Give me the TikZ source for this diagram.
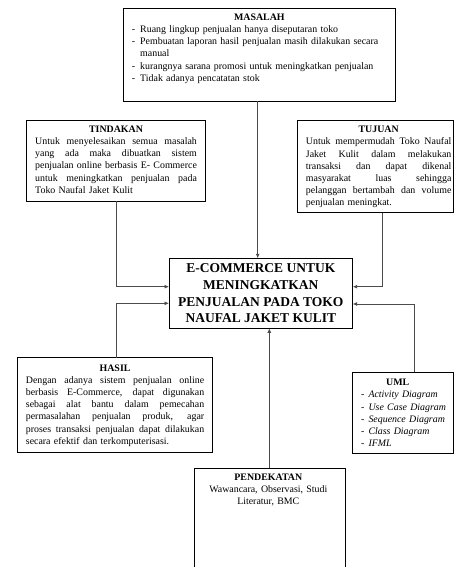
\documentclass[tikz,border=0pt]{standalone}
\usepackage{fontspec}
\setmainfont{Liberation Serif}
\usetikzlibrary{arrows.meta}
\newcommand\jline[1]{\makebox[\hsize][s]{\spaceskip=0pt\xspaceskip=0pt #1}}
\newcommand\headline[1]{\makebox[\hsize][c]{\textbf{#1}}}
\newcommand\dashitem{\makebox[8.3pt][l]{-}}
\begin{document}
\begin{tikzpicture}[x=1pt,y=-1pt,
  box/.style={draw=black,line width=0.8pt,anchor=north west,inner sep=0pt,outer sep=0pt},
  body/.style={inner sep=0pt,align=left,font=\fontsize{9.9}{12.2}\selectfont},
  arr/.style={draw=black!70,line width=0.8pt,-{Latex[length=4.5pt,width=4pt]}}]
\useasboundingbox (0,0) rectangle (454,567);
\clip (0,0) rectangle (454,567);
% boxes
\node[box,minimum width=272pt,minimum height=92.7pt] (mas) at (123.3,8.3) {};
\node[box,minimum width=178.3pt,minimum height=80.6pt] (tin) at (26.7,120.7) {};
\node[box,minimum width=156pt,minimum height=92pt] (tuj) at (297.3,120.7) {};
\node[box,minimum width=183.7pt,minimum height=70pt,align=center,
  font=\fontsize{13.5}{16.7}\selectfont\bfseries] (ec) at (169,258.3)
  {E-COMMERCE UNTUK\\MENINGKATKAN\\PENJUALAN PADA TOKO\\NAUFAL JAKET KULIT};
\node[box,minimum width=195.4pt,minimum height=95pt] (has) at (17.3,357.7) {};
\node[box,minimum width=100.6pt,minimum height=81pt] (uml) at (352.7,372.3) {};
\node[box,minimum width=151pt,minimum height=120pt] (pen) at (194.3,468.3) {};
% texts
\node[body,text width=255pt,anchor=base west] (masT) at (131.7,20.3)
  {\headline{MASALAH}\\
   \dashitem Ruang lingkup penjualan hanya diseputaran toko\\
   \dashitem Pembuatan laporan hasil penjualan masih dilakukan secara\\
   \hspace*{8.3pt}manual\\
   \dashitem kurangnya sarana promosi untuk meningkatkan penjualan\\
   \dashitem Tidak adanya pencatatan stok};
\node[body,text width=161.7pt,anchor=base west] (tinT) at (35,132.3)
  {\headline{TINDAKAN}\\
   \jline{Untuk menyelesaikan semua masalah}\\
   \jline{yang ada maka dibuatkan sistem}\\
   \jline{penjualan online berbasis E- Commerce}\\
   \jline{untuk meningkatkan penjualan pada}\\
   Toko Naufal Jaket Kulit};
\node[body,text width=145.5pt,anchor=base west] (tujT) at (305.7,132.6)
  {\headline{TUJUAN}\\
   \jline{Untuk mempermudah Toko Naufal}\\
   \jline{Jaket Kulit dalam melakukan}\\
   \jline{transaksi dan dapat dikenal}\\
   \jline{masyarakat luas sehingga}\\
   \jline{pelanggan bertambah dan volume}\\
   penjualan meningkat.};
\node[body,text width=178.3pt,anchor=base west] (hasT) at (25.7,371)
  {\headline{HASIL}\\
   \jline{Dengan adanya sistem penjualan online}\\
   \jline{berbasis E-Commerce, dapat digunakan}\\
   \jline{sebagai alat bantu dalam pemecahan}\\
   \jline{permasalahan penjualan produk, agar}\\
   \jline{proses transaksi penjualan dapat dilakukan}\\
   secara efektif dan terkomputerisasi.};
\node[body,text width=95pt,anchor=base west] (umlT) at (361,385.6)
  {\makebox[73pt][c]{\textbf{UML}}\\
   \makebox[7.3pt][l]{-}\textit{Activity Diagram}\\
   \makebox[7.3pt][l]{-}\textit{Use Case Diagram}\\
   \makebox[7.3pt][l]{-}\textit{Sequence Diagram}\\
   \makebox[7.3pt][l]{-}\textit{Class Diagram}\\
   \makebox[7.3pt][l]{-}\textit{IFML}};
\node[inner sep=0pt,align=center,text width=150pt,anchor=base,
  font=\fontsize{9.9}{12}\selectfont] (penT) at (268.3,480.6)
  {\textbf{PENDEKATAN}\\Wawancara, Observasi, Studi\\Literatur, BMC};
% connectors
\coordinate (mx) at (257.7,0);
\draw[arr] (mas.south -| mx) -- (ec.north -| mx);
\coordinate (tb) at (116.7,286.7);
\draw[arr] (tin.south -| tb) |- (ec.west |- tb);
\coordinate (hb) at (116.7,303.3);
\draw[arr] (has.north -| hb) |- (ec.west |- hb);
\coordinate (jb) at (382.3,286.7);
\draw[arr] (tuj.south -| jb) |- (ec.east |- jb);
\coordinate (ub) at (414.3,304);
\draw[arr] (uml.north -| ub) |- (ec.east |- ub);
\coordinate (px) at (269.3,0);
\draw[arr] (pen.north -| px) -- (ec.south -| px);
\end{tikzpicture}
\end{document}
